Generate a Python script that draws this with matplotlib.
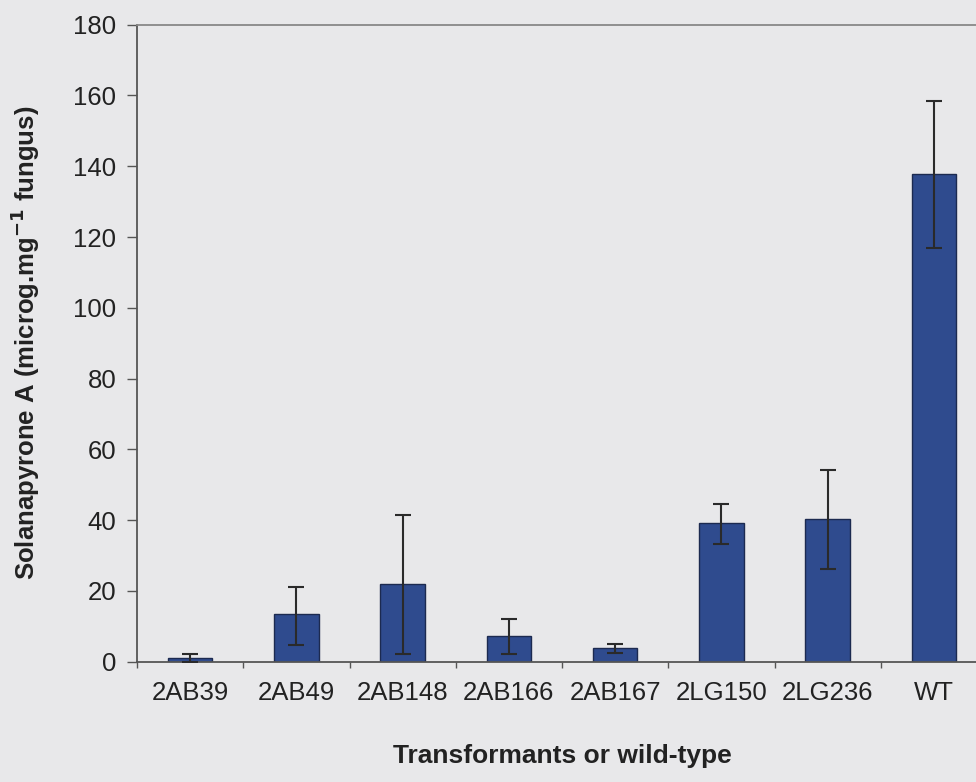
import matplotlib.pyplot as plt
import numpy as np

plt.rcParams['font.family'] = ['Liberation Sans', 'DejaVu Sans']

strains = ['2AB39', '2AB49', '2AB148', '2AB166', '2AB167', '2LG150', '2LG236', 'WT']
solanapyrone = [1.1, 13.4, 21.9, 7.2, 3.8, 39.1, 40.2, 137.7]
err_up = [1.1, 7.8, 19.6, 4.9, 1.2, 5.4, 14.1, 20.8]
err_low = [1.1, 8.6, 19.6, 4.9, 1.3, 5.7, 14.0, 20.7]

BG = '#e8e8ea'
BAR = '#2f4b8e'

fig = plt.figure(figsize=(9.76, 7.82), dpi=100, facecolor=BG)
ax = fig.add_axes([137 / 976, 120.3 / 782, 850 / 976, 637 / 782])
ax.set_facecolor(BG)

pos = np.arange(len(strains))
ax.bar(pos, solanapyrone, width=0.42, color=BAR, edgecolor='#1c2a50', linewidth=1.0, zorder=2)
ax.errorbar(pos, solanapyrone, yerr=[err_low, err_up], fmt='none', ecolor='#2a2a2a',
            elinewidth=1.5, capsize=6, capthick=1.5, zorder=3)

ax.set_xlim(-0.5, 7.5)
ax.set_ylim(0, 180)
ax.set_yticks(np.arange(0, 181, 20))

ax.set_xticks(pos)
ax.set_xticklabels(strains)
ax.set_xticks(np.arange(-0.5, 7.6, 1), minor=True)
ax.tick_params(axis='x', which='major', length=0, pad=14, labelsize=18.5, colors='#222222')
ax.tick_params(axis='x', which='minor', length=4, width=1, color='#555555')
ax.tick_params(axis='y', length=7, width=1, color='#555555', labelsize=18.5, labelcolor='#222222', pad=8)

for side in ['left', 'bottom']:
    ax.spines[side].set_color('#555555')
    ax.spines[side].set_linewidth(1.3)
ax.spines['top'].set_color('#888888')
ax.spines['top'].set_linewidth(1.3)
ax.spines['right'].set_visible(False)

ax.set_ylabel('Solanapyrone A (microg.mg$^{\\mathbf{-1}}$ fungus)', fontsize=18.5,
              fontweight='bold', color='#222222', labelpad=22)
ax.set_xlabel('Transformants or wild-type', fontsize=19, fontweight='bold',
              color='#222222', labelpad=28)

fig.savefig('out.png', dpi=100, facecolor=BG)
